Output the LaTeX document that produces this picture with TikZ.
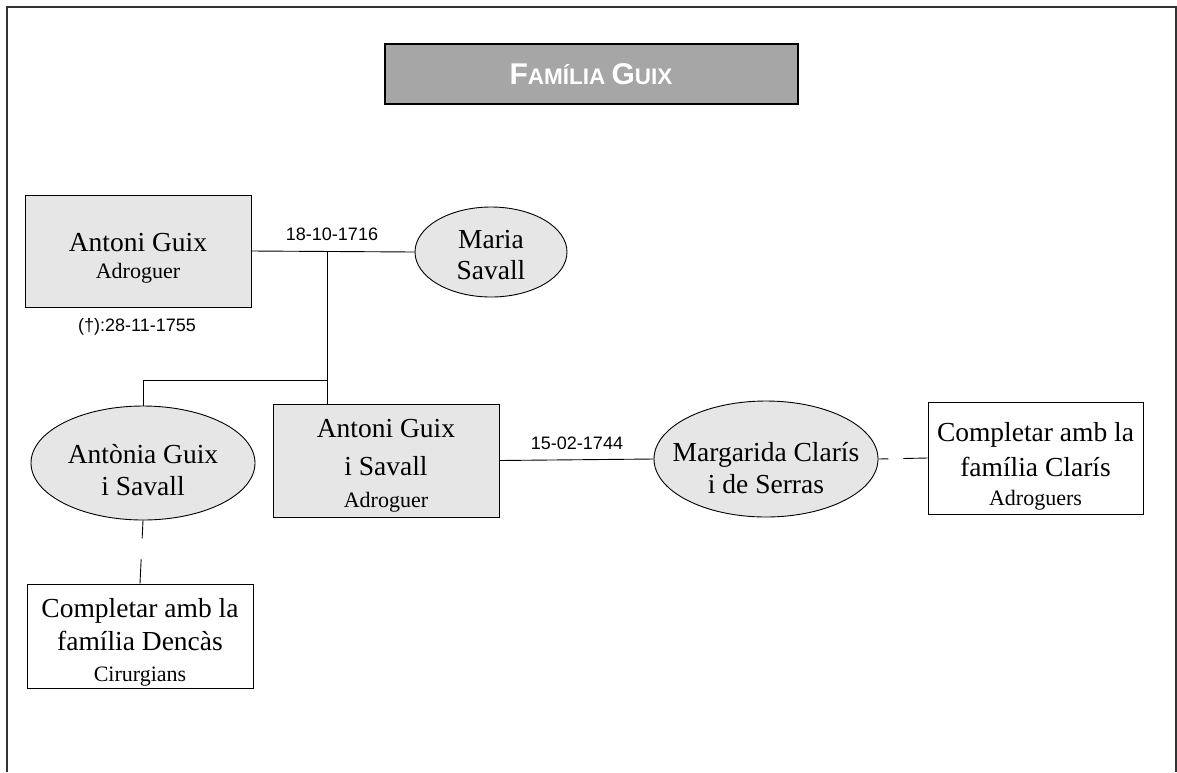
\documentclass[tikz,border=0pt]{standalone}
\usepackage{fontspec}
\setmainfont{Liberation Serif}
\newfontfamily\datafont{Liberation Sans}
\usetikzlibrary{shapes.geometric}
\definecolor{titlegray}{RGB}{166,166,166}
\definecolor{boxgray}{RGB}{230,230,230}
\newcommand{\nom}{\fontsize{27.5}{36}\selectfont}
\newcommand{\ofici}{\fontsize{22}{26}\selectfont}
\tikzset{
  frame/.style={line width=2pt, black!80},
  titlebox/.style={draw, line width=2pt, fill=titlegray, minimum width=413pt, minimum height=60pt, inner sep=0pt},
  personbox/.style={draw, line width=0.9pt, fill=boxgray, minimum width=226pt, minimum height=112pt, inner sep=0pt},
  notebox/.style={draw, line width=0.9pt, fill=white, minimum width=215pt, minimum height=112pt, inner sep=0pt},
  personoval/.style={draw, ellipse, line width=0.9pt, fill=boxgray, inner sep=0pt},
  nametext/.style={align=center, inner sep=0pt, font=\nom},
  datetext/.style={font=\datafont\fontsize{18}{20}\selectfont, inner sep=0pt},
  link/.style={line width=0.9pt}
}

\begin{document}
\begin{tikzpicture}[x=1pt,y=-1pt]
			%%%%% START %%%%%
			\useasboundingbox (0,0) rectangle (1177,772);
			
			\draw[frame] (7,772) -- (7,7) -- (1176,7) -- (1176,772);
			
			\node[titlebox] (titol) at (591,74) {\color{white}\datafont\bfseries\fontsize{30}{32}\selectfont F\fontsize{22.5}{32}\selectfont AMÍLIA \fontsize{30}{32}\selectfont G\fontsize{22.5}{32}\selectfont UIX};
			
			% primera generacio
			\node[personbox] (pare) at (138,251) {};
			\node[nametext] (pareT) at (138,258.5) {Antoni Guix\\[-9pt]{\ofici Adroguer}};
			\node[datetext] (mortpare) at (137,327) {(†):28-11-1755};
			
			\node[personoval, minimum width=152pt, minimum height=90pt] (mare) at (491,252) {};
			\node[nametext] (mareT) at (491,255.5) {Maria\\[-5pt]Savall};
			
			\coordinate (unio1) at (327,251);
			\coordinate (germans) at (327,380);
			\draw[link] (pare.east) -- (mare.west);
			\node[datetext] (casament1) at (332,234) {18-10-1716};
			
			% fills
			\node[personoval, minimum width=224pt, minimum height=114pt] (antonia) at (143,463) {};
			\node[nametext] (antoniaT) at (143,470) {Antònia Guix\\[-4pt]i Savall};
			
			\node[personbox, minimum height=113pt] (fill) at (386,460.5) {};
			\node[nametext] (fillT) at (386,466) {Antoni Guix\\[2pt]i Savall\\[-4pt]{\ofici Adroguer}};
			
			\draw[link] (unio1) -- (germans);
			\draw[link] (antonia.north) |- (germans) -- (fill.north -| germans);
			
			% segona generacio
			\node[personoval, minimum width=224pt, minimum height=116pt] (margarida) at (766,459) {};
			\node[nametext] (margaridaT) at (766,468) {Margarida Clarís\\[-4pt]i de Serras};
			\draw[link] (fill.east) -- (margarida.west);
			\node[datetext] (casament2) at (577,443) {15-02-1744};
			
			\node[notebox] (claris) at (1035.5,458) {};
			\node[nametext] (clarisT) at (1035.5,466) {Completar amb la\\[-1pt]família Clarís\\[-7pt]{\ofici Adroguers}};
			\draw[link, dash pattern=on 10pt off 15pt on 40pt] (margarida.east) -- (claris.west);
			
			\node[notebox, minimum width=226pt, minimum height=104pt] (dencas) at (140,636) {};
			\node[nametext] (dencasT) at (140,642.5) {Completar amb la\\[-3pt]família Dencàs\\[-5pt]{\ofici Cirurgians}};
			\draw[link, dash pattern=on 18pt off 21pt on 40pt] (antonia.south) -- (dencas.north);
			
			%%%%% END %%%%%
		\end{tikzpicture}
\end{document}
